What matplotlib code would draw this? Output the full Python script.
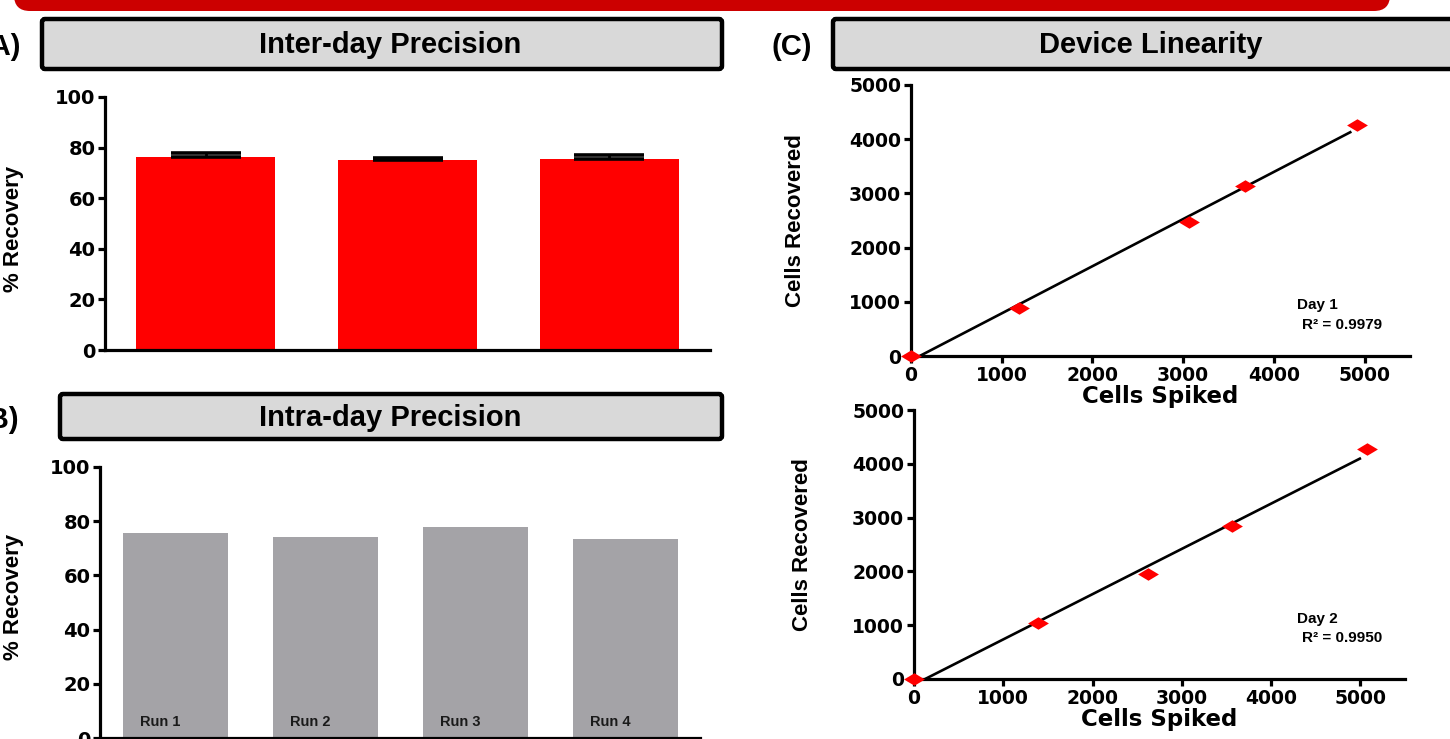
import matplotlib
matplotlib.use("Agg")
import matplotlib.pyplot as plt
import numpy as np
from matplotlib.patches import FancyBboxPatch
from matplotlib.path import Path
from matplotlib import font_manager as fm

# ---------------- data ----------------
inter_day_labels = ["Day 1", "Day 2", "Day 3"]
inter_day_recovery = [76.2, 75.0, 75.4]
inter_day_err = [1.5, 0.8, 1.8]

intra_day_labels = ["Run 1", "Run 2", "Run 3", "Run 4"]
intra_day_recovery = [75.7, 74.3, 78.0, 73.6]

day1_spiked = [0, 1193, 3062, 3686, 4915]
day1_recovered = [0, 891, 2478, 3137, 4262]
day1_r2 = "0.9979"

day2_spiked = [0, 1392, 2624, 3557, 5070]
day2_recovered = [0, 1039, 1948, 2850, 4273]
day2_r2 = "0.9950"

pct_ticks = [0, 20, 40, 60, 80, 100]
cell_ticks = [0, 1000, 2000, 3000, 4000, 5000]

# ---------------- fonts ----------------
names = {f.name for f in fm.fontManager.ttflist}
NARROW = "Liberation Sans Narrow" if "Liberation Sans Narrow" in names else "Liberation Sans"
WIDE = "DejaVu Sans"

W, H = 1450, 739
fig = plt.figure(figsize=(W / 100, H / 100), dpi=100)


def px(x0, y0, x1, y1):
    return [x0 / W, 1 - y1 / H, (x1 - x0) / W, (y1 - y0) / H]


# background overlay axes in pixel coordinates
bg = fig.add_axes([0, 0, 1, 1], zorder=0)
bg.set_xlim(0, W)
bg.set_ylim(H, 0)
bg.axis("off")

# red banner at top
bg.add_patch(FancyBboxPatch((14, -40), 1376, 51, boxstyle="round,pad=0,rounding_size=16",
                            fc="#cc0000", ec="none"))


def title_box(x0, y0, x1, y1, text, tx):
    bg.add_patch(FancyBboxPatch((x0, y0), x1 - x0, y1 - y0,
                                boxstyle="round,pad=0,rounding_size=3",
                                fc="#d9d9d9", ec="black", lw=3.2))
    bg.text(tx, (y0 + y1) / 2 + 1, text, ha="center", va="center",
            fontsize=21, fontweight="bold", family=NARROW)


title_box(42, 19, 722, 69, "Inter-day Precision", 390)
title_box(60, 394, 722, 439, "Intra-day Precision", 390)
title_box(833, 19, 1470, 69, "Device Linearity", 1151)

bg.text(21, 47, "(A)", ha="right", va="center", fontsize=21, fontweight="bold", family=NARROW)
bg.text(19, 420, "(B)", ha="right", va="center", fontsize=21, fontweight="bold", family=NARROW)
bg.text(812, 47, "(C)", ha="right", va="center", fontsize=21, fontweight="bold", family=NARROW)

LW = 2.3


def style_axes(ax, size):
    for s in ["top", "right"]:
        ax.spines[s].set_visible(False)
    for s in ["left", "bottom"]:
        ax.spines[s].set_linewidth(LW)
    ax.tick_params(width=LW, length=5, direction="out", labelsize=size, pad=2)
    for lab in ax.get_xticklabels() + ax.get_yticklabels():
        lab.set_fontweight("bold")
        lab.set_family(WIDE)
    ax.patch.set_alpha(0)


# ---------------- Panel A ----------------
axA = fig.add_axes(px(105, 97, 710, 350), zorder=2)
xa = np.arange(len(inter_day_recovery))
axA.bar(xa, inter_day_recovery, width=0.69, color="#ff0000", zorder=2)
axA.errorbar(xa, inter_day_recovery, yerr=[np.zeros(len(xa)), inter_day_err],
             fmt="none", ecolor="black", elinewidth=2.0, capsize=25, capthick=2.6, zorder=3)
axA.set_xlim(-0.5, 2.5)
axA.set_ylim(0, 100)
axA.set_yticks(pct_ticks)
axA.set_xticks([])
axA.set_ylabel("% Recovery", fontsize=16, fontweight="bold", family=NARROW)
axA.yaxis.set_label_coords((24 - 105) / 605, 0.48)
style_axes(axA, 14)

# ---------------- Panel B ----------------
axB = fig.add_axes(px(100, 467, 700, 738), zorder=2)
xb = np.arange(len(intra_day_recovery))
axB.bar(xb, intra_day_recovery, width=0.7, color="#a4a3a7", zorder=2)
for xi, lab in zip(xb, intra_day_labels):
    axB.text(xi - 0.1, 6, lab, ha="center", va="center", fontsize=10.5,
             fontweight="bold", family="Liberation Sans", color="#1a1a1a", zorder=3)
axB.set_xlim(-0.5, 3.5)
axB.set_ylim(0, 100)
axB.set_yticks(pct_ticks)
axB.set_xticks([])
axB.set_ylabel("% Recovery", fontsize=16, fontweight="bold", family=NARROW)
axB.yaxis.set_label_coords((24 - 100) / 600, 0.52)
style_axes(axB, 14)

# ---------------- Panel C ----------------
diamond = Path([(-1, 0), (0, 0.6), (1, 0), (0, -0.6), (-1, 0)],
               [Path.MOVETO, Path.LINETO, Path.LINETO, Path.LINETO, Path.CLOSEPOLY])


def linearity(rect, xs, ys, day, r2, tx, ty1, ty2, ylab_x):
    ax = fig.add_axes(rect, zorder=2)
    xs = np.asarray(xs, float)
    ys = np.asarray(ys, float)
    m, b = np.polyfit(xs, ys, 1)
    xl = np.array([0, xs.max() * 0.985])
    ax.plot(xl, m * xl + b, color="black", lw=1.9, zorder=2)
    ax.plot(xs, ys, linestyle="none", marker=diamond, markersize=15,
            color="#ff0000", mec="none", zorder=3, clip_on=False)
    ax.set_xlim(0, 5500)
    ax.set_ylim(0, 5000)
    ax.set_xticks(cell_ticks)
    ax.set_yticks(cell_ticks)
    ax.set_xlabel("Cells Spiked", fontsize=16.5, fontweight="bold", family=WIDE, labelpad=0)
    ax.set_ylabel("Cells Recovered", fontsize=16, fontweight="bold", family=NARROW)
    ax.yaxis.set_label_coords(ylab_x, 0.5)
    style_axes(ax, 13.5)
    ax.text(tx, ty1, day, ha="left", va="center", fontsize=11, fontweight="bold",
            family="Liberation Sans")
    ax.text(tx + 55, ty2, "R² = " + r2, ha="left", va="center", fontsize=11,
            fontweight="bold", family="Liberation Sans")
    return ax


axC1 = linearity(px(911, 85, 1410, 356), day1_spiked, day1_recovered, "Day 1", day1_r2,
                 4251, 941, 572, (806 - 911) / 499)
axC2 = linearity(px(914, 410, 1405, 679), day2_spiked, day2_recovered, "Day 2", day2_r2,
                 4289, 1119, 766, (813 - 914) / 491)

fig.savefig("out.png", dpi=100)
